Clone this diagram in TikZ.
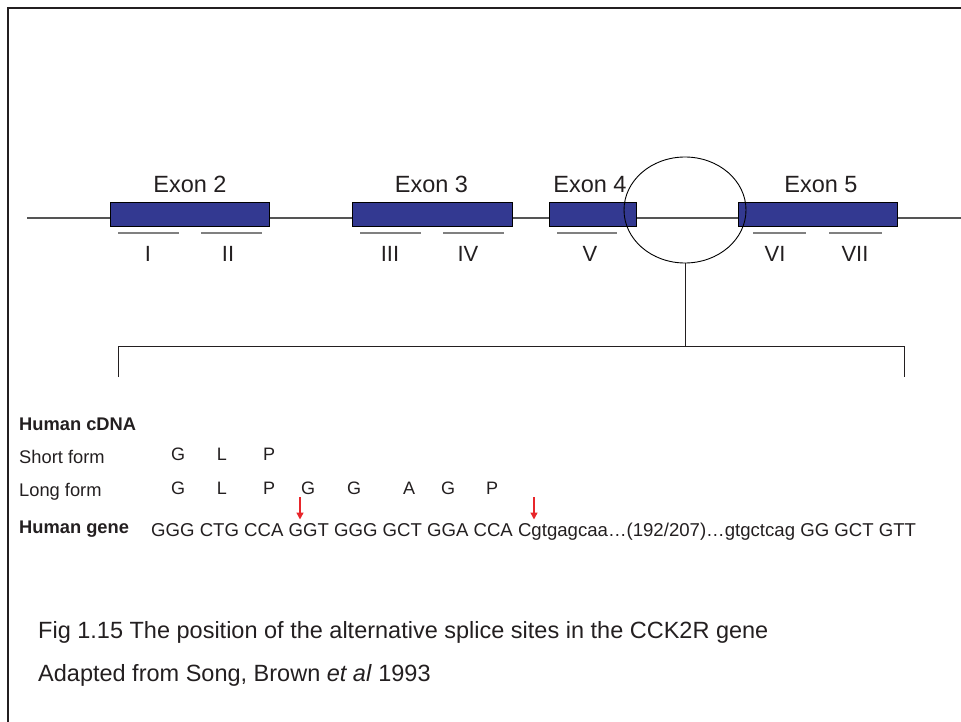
\documentclass[tikz,border=0pt]{standalone}
\usepackage{fontspec}
\setmainfont{Liberation Sans}
\usetikzlibrary{shapes.geometric,arrows.meta}
\definecolor{exonblue}{RGB}{51,57,145}
\definecolor{ink}{RGB}{35,31,32}
\definecolor{geneline}{RGB}{85,85,85}
\definecolor{ugrey}{RGB}{128,128,128}
\definecolor{splicered}{RGB}{232,38,43}
\tikzset{
  exon/.style={draw=black, line width=0.9pt, fill=exonblue, minimum height=24pt, inner sep=0pt, anchor=north west},
  exlabel/.style={font=\fontsize{23.5}{27}\selectfont, text=ink, inner sep=0pt, anchor=base},
  roman/.style={font=\fontsize{22}{26}\selectfont, text=ink, inner sep=0pt, anchor=base},
  uline/.style={draw=ugrey, line width=1.8pt},
  rowlabel/.style={font=\fontsize{18.3}{22}\selectfont, text=ink, inner sep=0pt, anchor=base west},
  boldlabel/.style={font=\fontsize{18.3}{21}\selectfont\bfseries, text=ink, inner sep=0pt, anchor=base west},
  aa/.style={font=\fontsize{18}{20}\selectfont, text=ink, inner sep=0pt, anchor=base},
  seq/.style={font=\fontsize{18.6}{22}\selectfont, text=ink, inner sep=0pt, anchor=base west},
  caption/.style={font=\fontsize{23.5}{27}\selectfont, text=ink, inner sep=0pt, anchor=base west},
  splice/.style={draw=splicered, line width=1.4pt, -{Triangle[length=7pt,width=7pt]}},
  frame/.style={draw=ink, line width=2.2pt},
}
\begin{document}
\begin{tikzpicture}[x=1pt,y=-1pt]
\useasboundingbox (0,0) rectangle (961,722);
% frame (top and left edges visible)
\coordinate (fbl) at (8,722);
\coordinate (ftl) at (8,8);
\coordinate (ftr) at (961,8);
\draw[frame] (fbl) -- (ftl) -- (ftr);
% gene line
\coordinate (gstart) at (27,218);
\coordinate (gend) at (961,218);
\draw[geneline, line width=1.3pt] (gstart) -- (gend);
% exons
\node[exon, minimum width=159pt] (e2) at (110,202) {};
\node[exon, minimum width=160pt] (e3) at (352,202) {};
\node[exon, minimum width=87pt] (e4) at (549,202) {};
\node[exon, minimum width=159pt] (e5) at (738,202) {};
\node[exlabel] (l2) at (190,193) {Exon 2};
\node[exlabel] (l3) at (431.5,193) {Exon 3};
\node[exlabel] (l4) at (590,193) {Exon 4};
\node[exlabel] (l5) at (821,193) {Exon 5};
% underlines
\draw[uline] (118,232.7) -- (179,232.7);
\draw[uline] (201,232.7) -- (262,232.7);
\draw[uline] (360,232.7) -- (421,232.7);
\draw[uline] (443,232.7) -- (504,232.7);
\draw[uline] (557,232.7) -- (617,232.7);
\draw[uline] (753,232.7) -- (806,232.7);
\draw[uline] (829,232.7) -- (882,232.7);
\node[roman] (r1) at (148,261) {I};
\node[roman] (r2) at (228,261) {II};
\node[roman] (r3) at (390,261) {III};
\node[roman] (r4) at (468,261) {IV};
\node[roman] (r5) at (590,261) {V};
\node[roman] (r6) at (775,261) {VI};
\node[roman] (r7) at (855,261) {VII};
% ellipse
\node[draw=black, line width=0.9pt, ellipse, minimum width=122pt, minimum height=106pt, inner sep=0pt] (ell) at (685,210) {};
% bracket
\coordinate (bmid) at (685,346);
\coordinate (bl) at (118,346);
\coordinate (br) at (904,346);
\coordinate (blb) at (118,377);
\coordinate (brb) at (904,377);
\draw[ink, line width=1pt] (ell.south) -- (bmid);
\draw[ink, line width=1pt] (blb) -- (bl) -- (br) -- (brb);
% sequence block
\node[boldlabel] (hc) at (19,430) {Human cDNA};
\node[rowlabel] (sf) at (19,463) {Short form};
\node[rowlabel] (lf) at (19,496) {Long form};
\node[boldlabel] (hg) at (19,533.3) {Human gene};
\node[aa] (s1) at (178,460.7) {G};
\node[aa] (s2) at (222,460.7) {L};
\node[aa] (s3) at (269,460.7) {P};
\node[aa] (p1) at (178,494) {G};
\node[aa] (p2) at (222,494) {L};
\node[aa] (p3) at (269,494) {P};
\node[aa] (p4) at (308,494) {G};
\node[aa] (p5) at (354,494) {G};
\node[aa] (p6) at (409,494) {A};
\node[aa] (p7) at (448,494) {G};
\node[aa] (p8) at (492,494) {P};
\node[seq] (gs) at (151,536.5) {GGG CTG CCA GGT GGG GCT GGA CCA Cgtgagcaa…(192/207)…gtgctcag GG GCT GTT};
% splice arrows
\coordinate (a1t) at (300,497);
\coordinate (a1b) at (300,519.5);
\coordinate (a2t) at (534,497);
\coordinate (a2b) at (534,519.5);
\draw[splice] (a1t) -- (a1b);
\draw[splice] (a2t) -- (a2b);
% caption
\node[caption] (cap1) at (38,638) {Fig 1.15 The position of the alternative splice sites in the CCK2R gene};
\node[caption] (cap2) at (38,681) {Adapted from Song, Brown \textit{et al} 1993};
\end{tikzpicture}
\end{document}
